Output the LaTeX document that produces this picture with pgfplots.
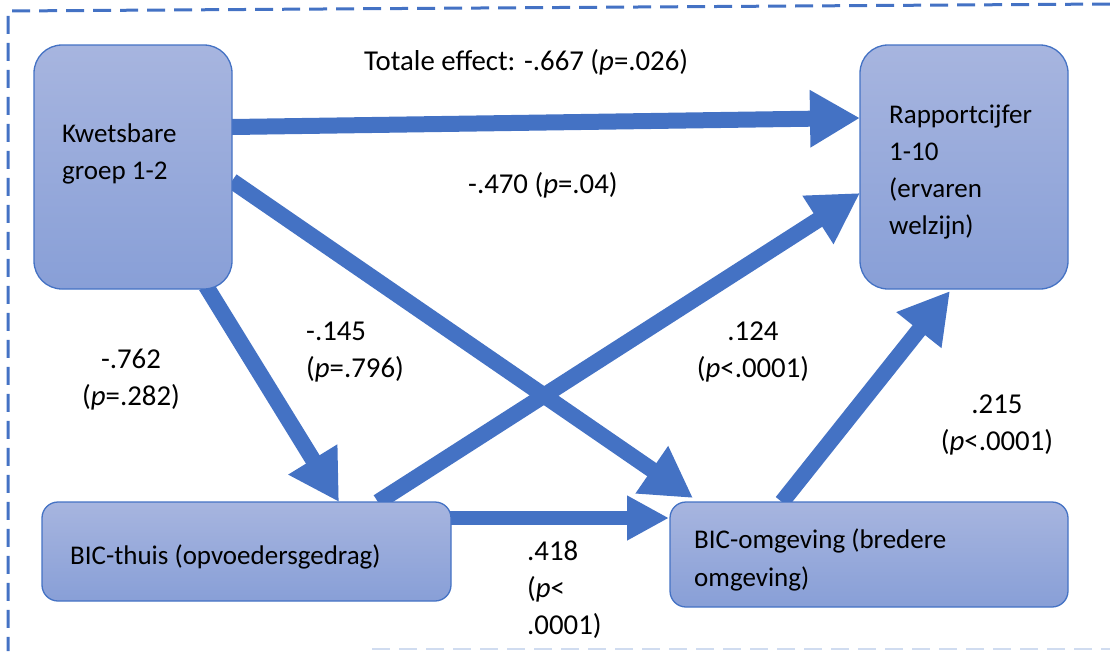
\documentclass[border=0pt]{standalone}
\usepackage{fontspec}
\setmainfont{Carlito}
\usepackage{pgfplots}
\pgfplotsset{compat=1.18}
\usetikzlibrary{arrows.meta}
\definecolor{pathblue}{HTML}{4472C4}
\definecolor{boxtop}{HTML}{A7B5DF}
\definecolor{boxbot}{HTML}{889FD7}
\begin{document}
\begin{tikzpicture}[font=\fontsize{27}{37}\selectfont,
  bx/.style={draw=pathblue, line width=1.3pt, top color=boxtop, bottom color=boxbot, rounded corners=28pt},
  arr/.style={draw=pathblue, line width=16pt, -{Triangle[length=50pt,width=54pt]}},
  lbl/.style={anchor=base west, inner sep=0pt},
  clbl/.style={anchor=base, inner sep=0pt},
  coef/.style={font=\fontsize{28.8}{37}\selectfont}]
\begin{axis}[
  scale only axis, width=1110pt, height=651pt,
  xmin=0, xmax=1110, ymin=0, ymax=651, y dir=reverse,
  hide axis, clip=false,
]
% frame
\addplot[draw=pathblue, line width=3pt, dash pattern=on 18pt off 9pt] coordinates {(1110,4) (8,11) (8,651)};
\addplot[draw=pathblue!25, line width=1.5pt, dash pattern=on 18pt off 9pt] coordinates {(372,649) (1110,649)};

% paths
\addplot[arr] coordinates {(232,127) (860,118)};
\addplot[arr] coordinates {(232,181) (693,498)};
\addplot[arr] coordinates {(206,286) (339,502)};
\addplot[arr] coordinates {(378,502) (860,193)};
\addplot[arr, line width=14pt, -{Triangle[length=42pt,width=42pt]}] coordinates {(450,518) (669,518)};
\addplot[arr] coordinates {(782,502) (950,291)};

% boxes
\addplot[bx] coordinates {(133,45) (232,45) (232,289) (34,289) (34,45) (133,45)};
\addplot[bx] coordinates {(964,45) (1068,45) (1068,289) (860,289) (860,45) (964,45)};
\addplot[bx, rounded corners=16pt] coordinates {(246,502) (451,502) (451,601) (42,601) (42,502) (246,502)};
\addplot[bx, rounded corners=16pt] coordinates {(869,502) (1068,502) (1068,607) (670,607) (670,502) (869,502)};

% box texts
\node[lbl] at (axis cs:62,142) {Kwetsbare};
\node[lbl] at (axis cs:62,179) {groep 1-2};
\node[lbl] at (axis cs:889,123) {Rapportcijfer};
\node[lbl] at (axis cs:889,160) {1-10};
\node[lbl] at (axis cs:889,197) {(ervaren};
\node[lbl] at (axis cs:889,234) {welzijn)};
\node[lbl] at (axis cs:70,564) {BIC-thuis (opvoedersgedrag)};
\node[lbl] at (axis cs:694,548) {BIC-omgeving (bredere};
\node[lbl] at (axis cs:694,586) {omgeving)};

% coefficients
\node[lbl, coef] at (axis cs:364,70) {Totale effect: -.667 (\textit{p}=.026)};
\node[lbl, coef] at (axis cs:468,193) {-.470 (\textit{p}=.04)};
\node[lbl, coef] at (axis cs:306,340) {-.145};
\node[lbl, coef] at (axis cs:306,377) {(\textit{p}=.796)};
\node[clbl, coef] at (axis cs:131,368) {-.762};
\node[clbl, coef] at (axis cs:131,405) {(\textit{p}=.282)};
\node[clbl, coef] at (axis cs:753,340) {.124};
\node[clbl, coef] at (axis cs:753,377) {(\textit{p}<.0001)};
\node[clbl, coef] at (axis cs:997,413) {.215};
\node[clbl, coef] at (axis cs:997,450) {(\textit{p}<.0001)};
\node[lbl, coef] at (axis cs:527,560) {.418};
\node[lbl, coef] at (axis cs:527,597) {(\textit{p}<};
\node[lbl, coef] at (axis cs:527,634) {.0001)};
\end{axis}
\pgfresetboundingbox
\path[use as bounding box] (current axis.south west) rectangle (current axis.north east);
\end{tikzpicture}
\end{document}
